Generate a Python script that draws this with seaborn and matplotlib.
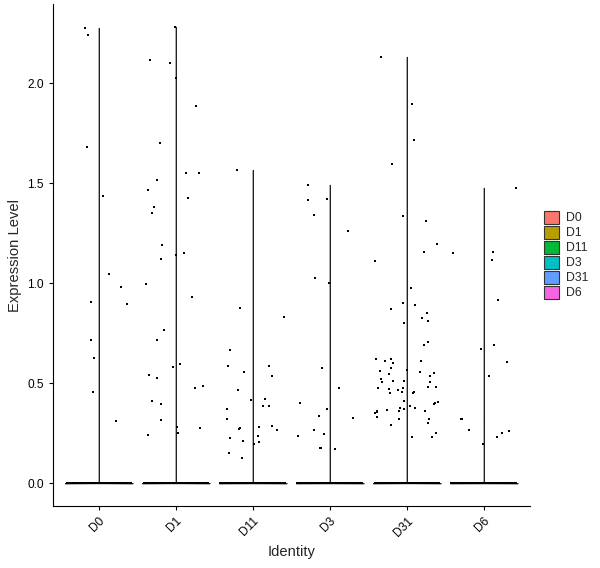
import numpy as np
import pandas as pd
import seaborn as sns
import matplotlib.pyplot as plt
from matplotlib.patches import Patch

# groups and colours (ggplot default hue palette)
identities = ['D0', 'D1', 'D11', 'D3', 'D31', 'D6']
colors = ['#F8766D', '#B79F00', '#00BA38', '#00BFC4', '#619CFF', '#F564E3']

# number of cells with zero expression (estimated, the band at 0 is solid)
n_zero = [1000, 1000, 1000, 1000, 1000, 1000]

# non-zero expression values
d0 = [2.278, 2.243, 1.684, 1.439, 1.048, 0.981, 0.905, 0.895, 0.715, 0.628,
      0.458, 0.313]
d1 = [2.283, 2.115, 2.10, 2.025, 1.885, 1.703, 1.55, 1.55, 1.518, 1.468,
      1.428, 1.383, 1.353, 1.193, 1.153, 1.143, 1.123, 0.998, 0.933, 0.768,
      0.718, 0.598, 0.583, 0.543, 0.528, 0.485, 0.475, 0.413, 0.398, 0.318,
      0.283, 0.278, 0.253, 0.243]
d11 = [1.567, 0.875, 0.83, 0.668, 0.588, 0.588, 0.555, 0.538, 0.468, 0.423,
       0.415, 0.388, 0.387, 0.373, 0.32, 0.288, 0.28, 0.275, 0.272, 0.265,
       0.238, 0.228, 0.213, 0.208, 0.195, 0.15, 0.128]
d3 = [1.493, 1.423, 1.418, 1.34, 1.263, 1.025, 1.003, 0.578, 0.478, 0.40,
      0.373, 0.338, 0.328, 0.268, 0.248, 0.238, 0.175, 0.175, 0.17]
d31 = [2.133, 1.895, 1.715, 1.598, 1.335, 1.313, 1.195, 1.155, 1.11, 0.978,
       0.903, 0.893, 0.87, 0.853, 0.827, 0.81, 0.803, 0.705, 0.69, 0.623,
       0.62, 0.613, 0.61, 0.603, 0.578, 0.568, 0.563, 0.558, 0.55, 0.545,
       0.535, 0.523, 0.513, 0.513, 0.508, 0.508, 0.483, 0.48, 0.478, 0.475,
       0.47, 0.468, 0.455, 0.455, 0.45, 0.45, 0.413, 0.408, 0.40, 0.397,
       0.387, 0.378, 0.378, 0.37, 0.365, 0.363, 0.363, 0.36, 0.358, 0.35,
       0.333, 0.32, 0.32, 0.30, 0.29, 0.253, 0.233, 0.233]
d6 = [1.478, 1.158, 1.153, 1.118, 0.918, 0.693, 0.673, 0.608, 0.538, 0.323,
      0.323, 0.268, 0.263, 0.253, 0.233, 0.195]
expressed = [d0, d1, d11, d3, d31, d6]

rows = []
for ident, nz, vals in zip(identities, n_zero, expressed):
    for v in [0.0] * nz + vals:
        rows.append([ident, v])
df = pd.DataFrame(rows, columns=['Identity', 'Expression Level'])

sns.set_style('ticks')
plt.rcParams['font.family'] = ['Liberation Sans', 'DejaVu Sans']

fig = plt.figure(figsize=(6, 5.68), dpi=100)
# width chosen so every category sits on the same sub-pixel offset
ax = fig.add_axes([52.6 / 600, 62 / 568, 477.4 / 600, 502 / 568])

# violins collapse to a line because almost every cell is zero
sns.violinplot(data=df, x='Identity', y='Expression Level', hue='Identity',
               order=identities, hue_order=identities, palette=colors,
               density_norm='width', cut=0, inner=None, bw_method=0.002,
               gridsize=2000, width=0.88, linewidth=0.7, linecolor='#222222',
               legend=False, ax=ax)
for coll in ax.collections:
    coll.set_antialiased(False)

np.random.seed(3)
sns.stripplot(data=df, x='Identity', y='Expression Level', order=identities,
              color='black', jitter=0.42, size=1.9, marker='s', linewidth=0,
              ax=ax)

ax.set_xlim(-0.6, 5.6)
ax.set_ylim(-0.114, 2.397)
ax.set_yticks([0, 0.5, 1.0, 1.5, 2.0])
ax.set_yticklabels(['0.0', '0.5', '1.0', '1.5', '2.0'])
ax.set_xlabel('Identity', fontsize=10.6)
ax.set_ylabel('Expression Level', fontsize=10.6)
ax.tick_params(axis='both', labelsize=8.6, length=3, width=0.8,
               color='black', labelcolor='black')
for lab in ax.get_xticklabels():
    lab.set_rotation(45)
    lab.set_ha('right')
    lab.set_va('top')
    lab.set_rotation_mode('anchor')
for side in ['left', 'bottom']:
    ax.spines[side].set_linewidth(0.8)
    ax.spines[side].set_color('black')
sns.despine(ax=ax)

handles = [Patch(facecolor=c, edgecolor='#333333', linewidth=0.8, label=l)
           for l, c in zip(identities, colors)]
ax.legend(handles=handles, loc='center left', bbox_to_anchor=(1.015, 0.5),
          frameon=False, fontsize=8.8, handlelength=1.15, handleheight=1.25,
          labelspacing=0.12, handletextpad=0.6, borderaxespad=0.2)

fig.savefig('out.png', dpi=100)
